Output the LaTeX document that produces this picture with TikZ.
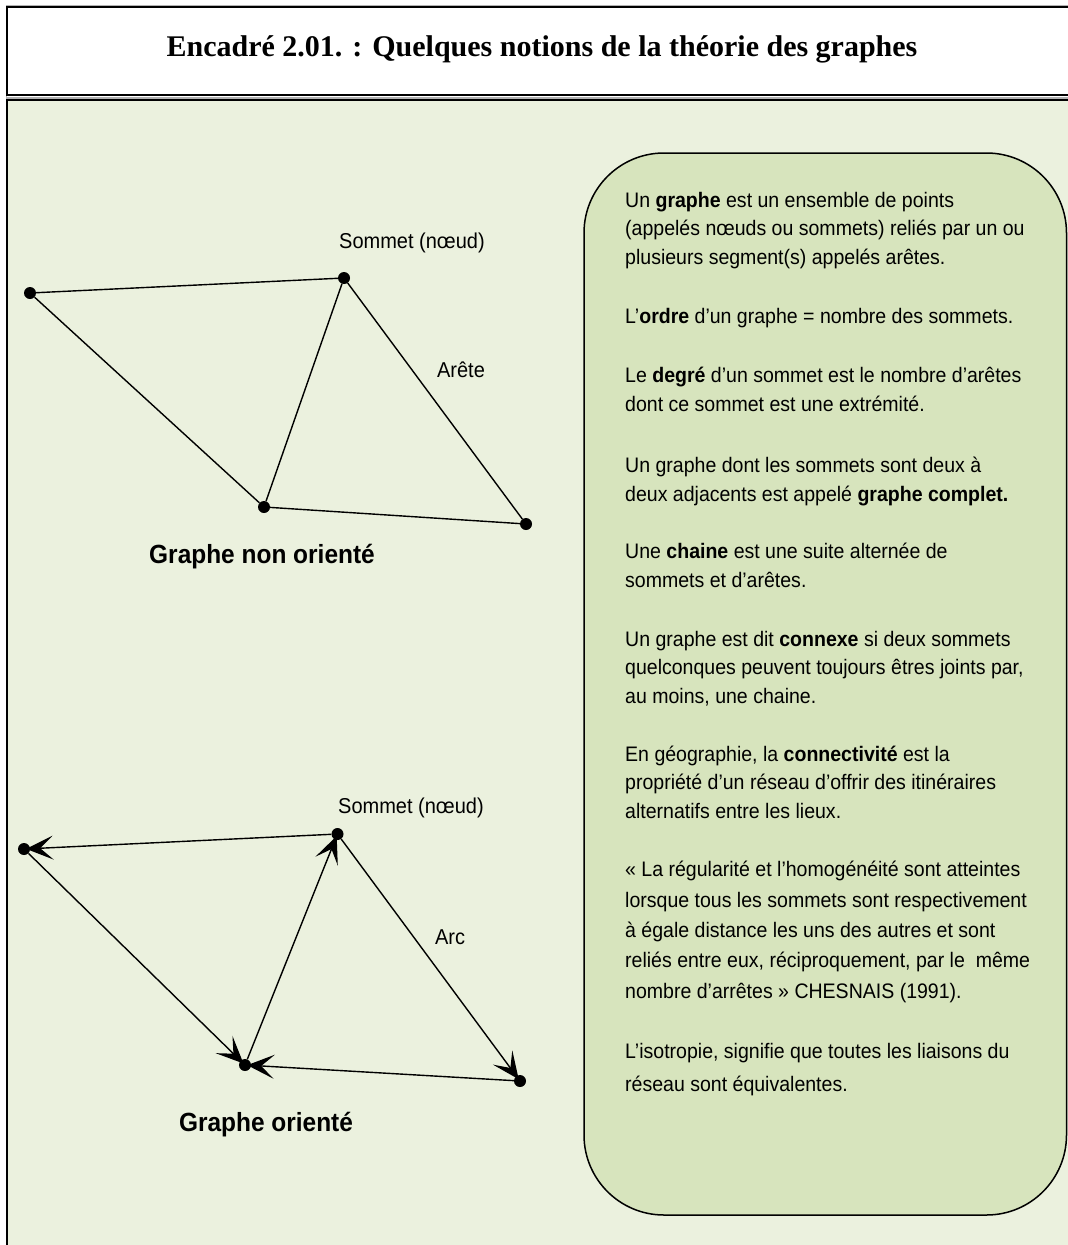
\documentclass[tikz,border=0pt]{standalone}
\usepackage{fontspec}
\setmainfont{Liberation Serif}
\newfontfamily\arial[FakeStretch=0.93]{Liberation Sans}
\usetikzlibrary{arrows.meta}
\definecolor{panelbg}{RGB}{235,241,222}
\definecolor{boxbg}{RGB}{215,228,189}
\begin{document}
\begin{tikzpicture}[x=1pt,y=-1pt,
  vertex/.style={circle, fill=black, inner sep=0pt, minimum size=12pt},
  edge/.style={line width=1.4pt},
  arcedge/.style={edge, -{Stealth[length=27pt,width=24pt,inset=13pt]}, shorten >=-4pt},
  lbl/.style={inner sep=0pt, font=\arial\fontsize{21.5}{25}\selectfont},
  captionlbl/.style={inner sep=0pt, font=\arial\bfseries\fontsize{26.3}{30}\selectfont},
  para/.style={anchor=base west, align=left, inner sep=0pt, font=\arial\fontsize{21}{28.3}\selectfont}]
\useasboundingbox (0,0) rectangle (1068,1245);
\clip (0,0) rectangle (1068,1245);
% header
\draw[gray!60, line width=1pt] (6,5) rectangle (1090,97);
\draw[black, line width=2.2pt, fill=white] (7,7) rectangle (1090,95);
\node[font=\bfseries\fontsize{30}{36}\selectfont, anchor=base, inner sep=0pt] (title) at (542,56.7)
  {Encadré 2.01. : Quelques notions de la théorie des graphes};
% panel
\draw[gray!60, line width=1pt] (6,98.5) rectangle (1090,1260);
\draw[black, line width=2.2pt, fill=panelbg] (7,100) rectangle (1090,1260);
% rounded text box
\draw[line width=1.5pt, fill=boxbg, rounded corners=80pt] (584,153) rectangle (1066.5,1215);

% undirected graph
\node[vertex] (a1) at (30,293) {};
\node[vertex] (b1) at (344,278) {};
\node[vertex] (c1) at (264,507) {};
\node[vertex] (d1) at (526,524) {};
\draw[edge] (a1) -- (b1);
\draw[edge] (a1) -- (c1);
\draw[edge] (c1) -- (b1);
\draw[edge] (b1) -- (d1);
\draw[edge] (c1) -- (d1);
\node[lbl] (s1) at (412,243) {Sommet (nœud)};
\node[lbl] (ar) at (461,370) {Arête};
\node[captionlbl] (g1) at (262,557) {Graphe non orienté};

% directed graph
\node[vertex] (a2) at (24,849) {};
\node[vertex] (b2) at (337.5,834) {};
\node[vertex] (c2) at (245,1065) {};
\node[vertex] (d2) at (520,1081) {};
\draw[arcedge] (b2) -- (a2);
\draw[arcedge] (a2) -- (c2);
\draw[arcedge] (c2) -- (b2);
\draw[arcedge] (b2) -- (d2);
\draw[arcedge] (d2) -- (c2);
\node[lbl] (s2) at (411,808) {Sommet (nœud)};
\node[lbl] (arc) at (450,937) {Arc};
\node[captionlbl] (g2) at (266,1125) {Graphe orienté};

% text (anchor = baseline of the last line)
\node[para] (p1) at (625,264) {Un \textbf{graphe} est un ensemble de points\\(appelés nœuds ou sommets) reliés par un ou\\plusieurs segment(s) appelés arêtes.};
\node[para] (p2) at (625,323) {L’\textbf{ordre} d’un graphe = nombre des sommets.};
\node[para] (p3) at (625,411) {Le \textbf{degré} d’un sommet est le nombre d’arêtes\\dont ce sommet est une extrémité.};
\node[para] (p4) at (625,501) {Un graphe dont les sommets sont deux à\\deux adjacents est appelé \textbf{graphe complet.}};
\node[para] (p5) at (625,587) {Une \textbf{chaine} est une suite alternée de\\sommets et d’arêtes.};
\node[para] (p6) at (625,703) {Un graphe est dit \textbf{connexe} si deux sommets\\quelconques peuvent toujours êtres joints par,\\au moins, une chaine.};
\node[para] (p7) at (625,818) {En géographie, la \textbf{connectivité} est la\\propriété d’un réseau d’offrir des itinéraires\\alternatifs entre les lieux.};
\node[para, font=\arial\fontsize{21}{30.3}\selectfont] (p8) at (625,998) {« La régularité et l’homogénéité sont atteintes\\lorsque tous les sommets sont respectivement\\à égale distance les uns des autres et sont\\reliés entre eux, réciproquement, par le \ même\\nombre d’arrêtes » CHESNAIS (1991).};
\node[para, font=\arial\fontsize{21}{32.5}\selectfont] (p9) at (625,1091) {L’isotropie, signifie que toutes les liaisons du\\réseau sont équivalentes.};
\end{tikzpicture}
\end{document}
